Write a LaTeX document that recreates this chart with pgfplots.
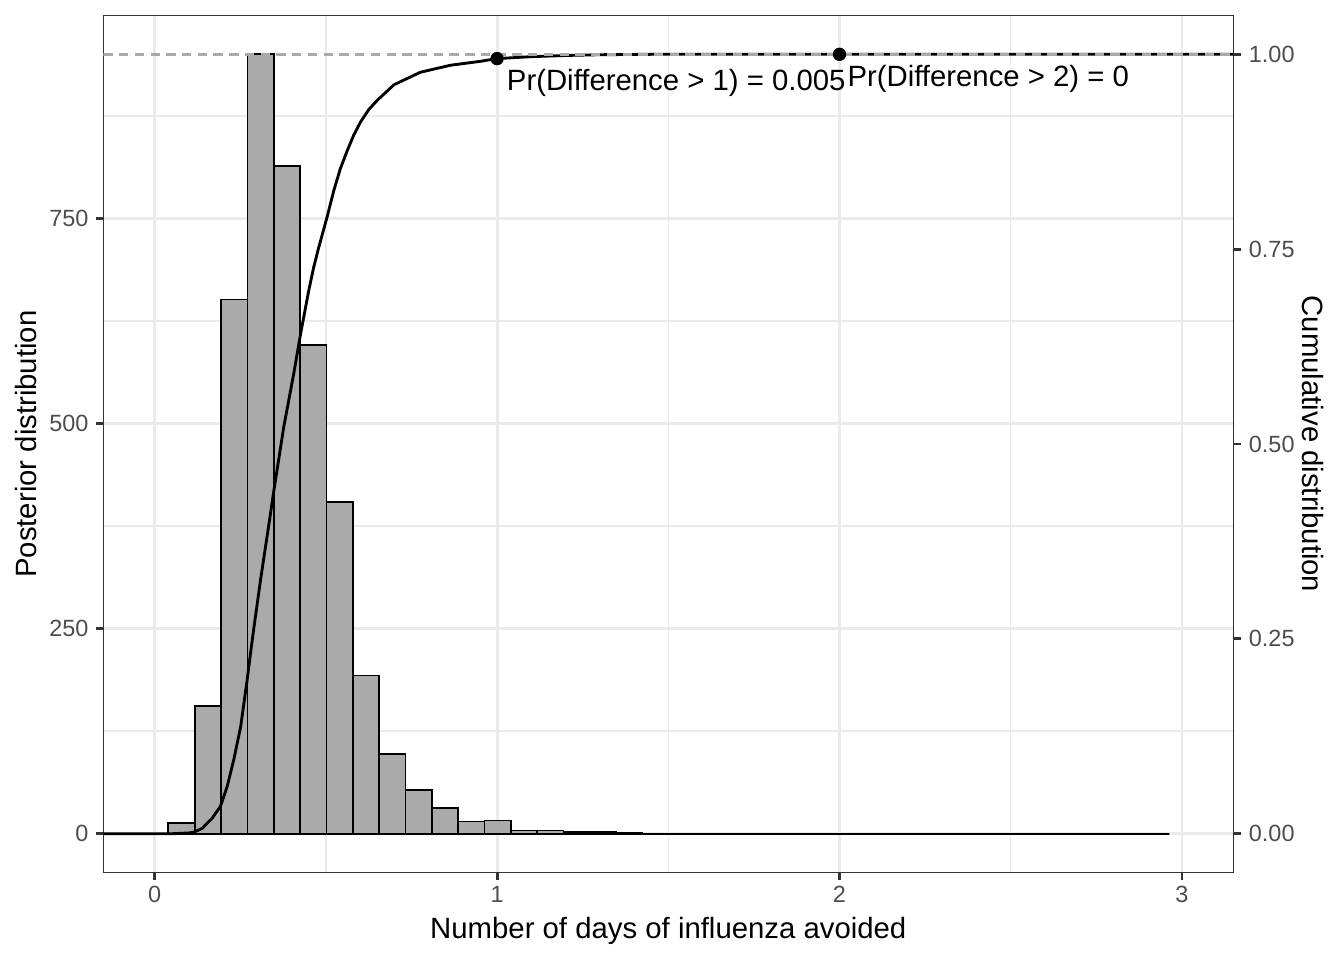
\documentclass[border=0pt]{standalone}
\usepackage{fontspec}
\setmainfont{Liberation Sans}
\usepackage{pgfplots}
\pgfplotsset{compat=1.18}
\definecolor{gridc}{HTML}{EBEBEB}
\definecolor{framec}{HTML}{333333}
\definecolor{tickc}{HTML}{4D4D4D}
\definecolor{barc}{HTML}{AAAAAA}
\definecolor{dashc}{HTML}{A9A9A9}
\begin{document}
\begin{tikzpicture}
\path[use as bounding box] (-38.74bp,-32.74bp) rectangle (465.26bp,327.26bp);
\begin{axis}[
  at={(0,0)}, anchor=south west,
  scale only axis, width=423.75bp, height=321.5bp,
  xmin=-0.15, xmax=3.15, ymin=-47.5, ymax=997.5,
  tick pos=left,
  xtick={0,1,2,3}, ytick={0,250,500,750},
  minor xtick={0.5,1.5,2.5}, minor ytick={125,375,625,875},
  grid=both,
  major grid style={gridc, line width=1.07bp},
  minor grid style={gridc, line width=0.53bp},
  tick align=outside,
  major tick length=2.75bp, minor tick length=0pt,
  tick style={framec, line width=1.07bp},
  axis line style={framec, line width=0.55bp},
  /pgf/number format/assume math mode=true,
  ticklabel style={font=\fontsize{8.8bp}{10bp}\selectfont, text=tickc, inner sep=0pt},
  xticklabel style={anchor=north, yshift=-2.0bp},
  yticklabel style={anchor=east, xshift=-2.6bp},
  every axis x label/.style={at={(axis description cs:0.5,-0.0762)}, anchor=base, font=\fontsize{11bp}{13bp}\selectfont},
  every axis y label/.style={at={(axis description cs:-0.0589,0.5)}, rotate=90, anchor=base, font=\fontsize{11bp}{13bp}\selectfont},
  xlabel={Number of days of influenza avoided},
  ylabel={Posterior distribution},
]
\addplot[ybar interval, fill=barc, draw=black, line width=0.65bp] coordinates {
(0.0400,13) (0.1169,156) (0.1938,651) (0.2708,950) (0.3477,814) (0.4246,596)
(0.5015,404) (0.5784,193) (0.6554,97) (0.7323,53) (0.8092,31) (0.8861,15)
(0.9630,16) (1.0400,4) (1.1169,4) (1.1938,2) (1.2707,2) (1.3476,1)
(1.4246,0) (1.5015,0) (1.5784,0) (1.6553,0) (1.7322,0) (1.8092,0)
(1.8861,0) (1.9630,0) (2.0399,0) (2.1168,0) (2.1938,0) (2.2707,0)
(2.3476,0) (2.4245,0) (2.5014,0) (2.5784,0) (2.6553,0) (2.7322,0)
(2.8091,0) (2.8861,0) (2.9630,0)
};
\end{axis}
\begin{axis}[
  at={(0,0)}, anchor=south west,
  scale only axis, width=423.75bp, height=321.5bp,
  xmin=-0.15, xmax=3.15, ymin=-0.05, ymax=1.05,
  axis x line=none,
  axis y line*=right,
  ytick={0,0.25,0.5,0.75,1},
  yticklabels={0.00,0.25,0.50,0.75,1.00},
  tick align=outside,
  major tick length=2.75bp, minor tick length=0pt,
  tick style={framec, line width=1.07bp},
  axis line style={framec, line width=0.55bp},
  /pgf/number format/assume math mode=true,
  ticklabel style={font=\fontsize{8.8bp}{10bp}\selectfont, text=tickc, inner sep=0pt},
  yticklabel style={anchor=west, xshift=2.9bp},
  every axis y label/.style={at={(axis description cs:1.0614,0.5)}, rotate=-90, anchor=base, font=\fontsize{11bp}{13bp}\selectfont},
  ylabel={Cumulative distribution},
]
\addplot[black, line width=1.07bp, line join=round] coordinates {
(-0.15,0) (0.05,0) (0.10,0.001) (0.115,0.002) (0.139,0.007) (0.168,0.020)
(0.192,0.035) (0.212,0.061) (0.231,0.095) (0.251,0.137) (0.270,0.197)
(0.280,0.232) (0.290,0.265) (0.309,0.325) (0.338,0.410) (0.348,0.440)
(0.377,0.522) (0.406,0.590) (0.426,0.641) (0.450,0.697) (0.464,0.726)
(0.479,0.752) (0.504,0.792) (0.523,0.825) (0.542,0.853) (0.562,0.876) (0.581,0.896) (0.601,0.913)
(0.625,0.929) (0.650,0.941) (0.699,0.961) (0.776,0.977) (0.864,0.986) (0.951,0.991)
(1.000,0.9945) (1.10,0.9970) (1.20,0.9985) (1.30,0.9995) (1.45,1.0) (3.15,1.0)
};
\addplot[dashc, line width=1.07bp, dash pattern=on 3.5bp off 2.4bp] coordinates {(-0.15,1) (3.15,1)};
\addplot[only marks, mark=*, mark size=2.3bp, black] coordinates {(1,0.9945) (2,1)};
\node[anchor=base west, inner sep=0pt, xshift=3.5bp, yshift=-11.9bp, font=\fontsize{11bp}{13bp}\selectfont] at (axis cs:1,0.9945) {Pr(Difference > 1) = 0.005};
\node[anchor=base west, inner sep=0pt, xshift=2.8bp, yshift=-12.2bp, font=\fontsize{11bp}{13bp}\selectfont] at (axis cs:2,1) {Pr(Difference > 2) = 0};
\end{axis}
\end{tikzpicture}
\end{document}
